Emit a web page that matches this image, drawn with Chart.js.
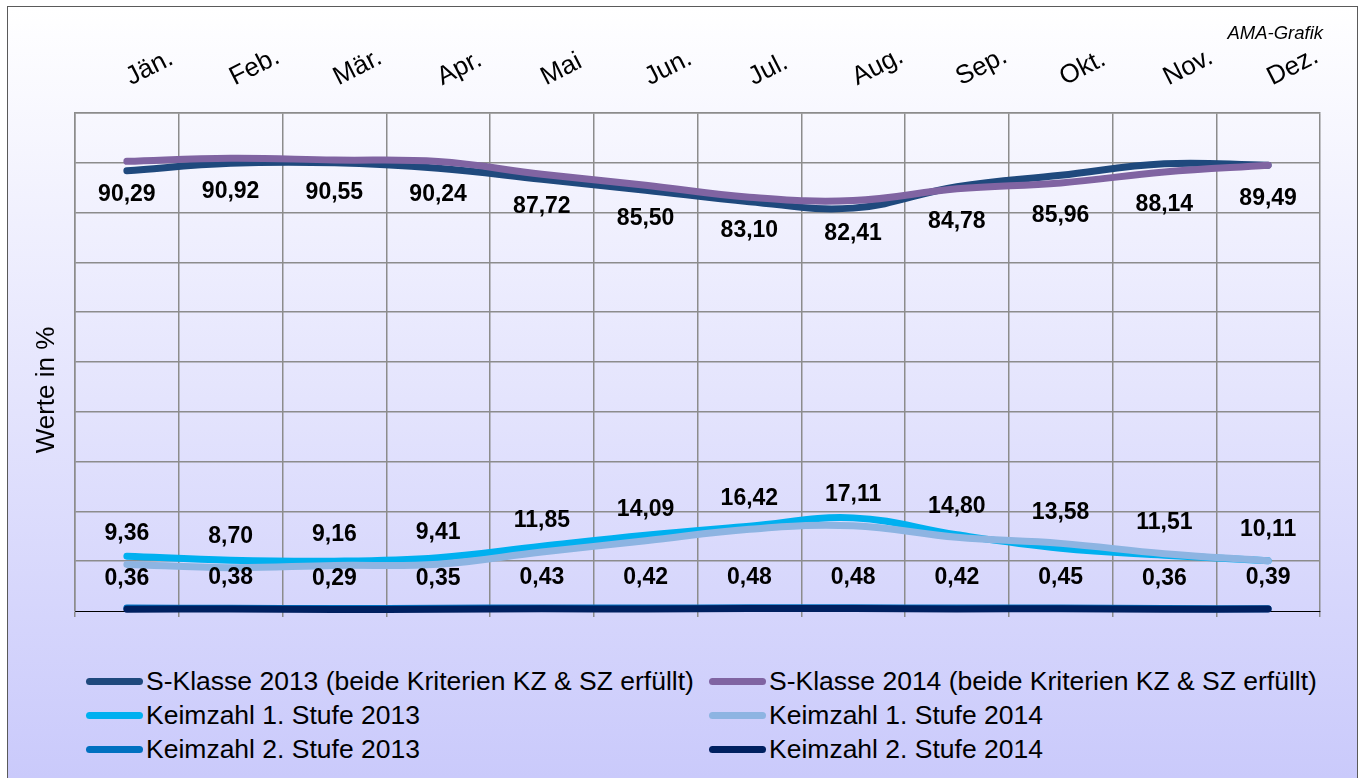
<!DOCTYPE html>
<html lang="de">
<head>
<meta charset="utf-8">
<title>S-Klasse und Keimzahl 2013 / 2014</title>
<script src="https://cdn.jsdelivr.net/npm/chart.js@4.4.1/dist/chart.umd.min.js"></script>
<style>
    html, body { margin: 0; padding: 0; background: #fff; width: 1362px; height: 778px; overflow: hidden; }
    #frame {
        position: absolute; left: 7px; top: 6px; width: 1351px; height: 800px;
        box-sizing: border-box; border: 1px solid #5a5a5a;
        background: linear-gradient(#ffffff, #c8c8fb);
        font-family: "Liberation Sans", Arial, sans-serif;
    }
    #chartBox { position: absolute; left: 0; top: 0; width: 1349px; height: 650px; }
    #ama { position: absolute; right: 34px; top: 17px; font-size: 18.5px; line-height: 1; font-style: italic; color: #000; }
    .legend-item { position: absolute; height: 34px; display: flex; align-items: center; white-space: nowrap; font-size: 26.5px; color: #000; }
    .legend-item .swatch { display: inline-block; width: 57px; height: 7px; border-radius: 4px; margin-right: 3px; }
</style>
</head>
<body>
<div id="frame">
    <div id="chartBox"><canvas id="chart"></canvas></div>
    <div id="ama">AMA-Grafik</div>
    <div id="legend"></div>
</div>
<script>
// Monate (Kategorien)
const monate = ['Jän.', 'Feb.', 'Mär.', 'Apr.', 'Mai', 'Jun.', 'Jul.', 'Aug.', 'Sep.', 'Okt.', 'Nov.', 'Dez.'];

// Werte in %
const sKlasse2013 = [88.4, 89.9, 90.0, 88.9, 86.7, 84.5, 82.2, 80.9, 85.2, 87.5, 89.8, 89.5];
const sKlasse2014 = [90.29, 90.92, 90.55, 90.24, 87.72, 85.50, 83.10, 82.41, 84.78, 85.96, 88.14, 89.49];
const keimzahl1Stufe2013 = [11.0, 10.2, 10.0, 10.7, 13.0, 15.2, 17.0, 18.7, 15.3, 12.6, 11.2, 10.1];
const keimzahl1Stufe2014 = [9.36, 8.70, 9.16, 9.41, 11.85, 14.09, 16.42, 17.11, 14.80, 13.58, 11.51, 10.11];
const keimzahl2Stufe2013 = [0.60, 0.55, 0.50, 0.55, 0.60, 0.60, 0.65, 0.65, 0.60, 0.60, 0.50, 0.45];
const keimzahl2Stufe2014 = [0.36, 0.38, 0.29, 0.35, 0.43, 0.42, 0.48, 0.48, 0.42, 0.45, 0.36, 0.39];

// y-Achse
const yMin = 0;
const yMax = 100;
const yStep = 10;

const FONT = '"Liberation Sans", Arial, sans-serif';
const GRID = '#8c8c8c';

// label: 'below' / 'above' -> Datenbeschriftung
function serie(name, data, color, order, label) {
    return {
        label: name,
        data: data,
        borderColor: color,
        backgroundColor: color,
        borderWidth: 7,
        borderCapStyle: 'round',
        borderJoinStyle: 'round',
        pointRadius: 0,
        pointHoverRadius: 0,
        tension: 0.4,
        fill: false,
        clip: false,
        order: order,
        dataLabel: label
    };
}

const datasets = [
    serie('S-Klasse 2013 (beide Kriterien KZ & SZ erfüllt)', sKlasse2013, '#1f497d', 1, null),
    serie('S-Klasse 2014 (beide Kriterien KZ & SZ erfüllt)', sKlasse2014, '#8064a2', 0, 'below'),
    serie('Keimzahl 1. Stufe 2013', keimzahl1Stufe2013, '#00b0f0', 1, null),
    serie('Keimzahl 1. Stufe 2014', keimzahl1Stufe2014, '#8db4e2', 0, 'above'),
    serie('Keimzahl 2. Stufe 2013', keimzahl2Stufe2013, '#0070c0', 1, null),
    serie('Keimzahl 2. Stufe 2014', keimzahl2Stufe2014, '#002060', 0, 'above')
];

// Datenbeschriftungen (0,00)
const wertePlugin = {
    id: 'werte',
    afterDatasetsDraw(chart) {
        const ctx = chart.ctx;
        ctx.save();
        ctx.font = 'bold 23px ' + FONT;
        ctx.fillStyle = '#000';
        ctx.textAlign = 'center';
        ctx.textBaseline = 'middle';
        chart.data.datasets.forEach((ds, i) => {
            if (!ds.dataLabel) return;
            const meta = chart.getDatasetMeta(i);
            const off = ds.dataLabel === 'below' ? 33 : -31;
            meta.data.forEach((pt, j) => {
                ctx.fillText(ds.data[j].toFixed(2).replace('.', ','), pt.x, pt.y + off);
            });
        });
        ctx.restore();
    }
};

// Achsentitel links
const achsenTitel = {
    id: 'achsenTitel',
    afterDraw(chart) {
        const a = chart.chartArea;
        const ctx = chart.ctx;
        ctx.save();
        ctx.translate(a.left - 28, (a.top + a.bottom) / 2 + 28);
        ctx.rotate(-Math.PI / 2);
        ctx.font = '26px ' + FONT;
        ctx.fillStyle = '#000';
        ctx.textAlign = 'center';
        ctx.textBaseline = 'middle';
        ctx.fillText('Werte in %', 0, 0);
        ctx.restore();
    }
};

const chart = new Chart(document.getElementById('chart'), {
    type: 'line',
    data: { labels: monate, datasets: datasets },
    options: {
        responsive: true,
        maintainAspectRatio: false,
        animation: false,
        events: [],
        layout: { padding: { left: 67, right: 37, top: 0, bottom: 38 } },
        plugins: {
            legend: { display: false },
            tooltip: { enabled: false },
            title: { display: false }
        },
        scales: {
            x: {
                position: 'top',
                offset: true,
                grid: { color: GRID, lineWidth: 1.5, drawTicks: false, offset: true },
                border: { display: true, color: GRID, width: 1.5 },
                ticks: {
                    color: '#000',
                    font: { family: FONT, size: 26 },
                    minRotation: 27,
                    maxRotation: 27,
                    autoSkip: false,
                    labelOffset: 15,
                    padding: 20
                },
                afterFit: s => { s.height = 106; }
            },
            xUnten: {
                position: 'bottom',
                offset: true,
                grid: { drawOnChartArea: false, drawTicks: true, tickLength: 6, color: GRID, lineWidth: 1.5, offset: true },
                border: { display: true, color: '#000', width: 1 },
                ticks: { display: false },
                afterFit: s => { s.height = 8; }
            },
            y: {
                min: yMin,
                max: yMax,
                ticks: { display: false, stepSize: yStep },
                grid: {
                    drawTicks: false,
                    lineWidth: 1.5,
                    color: c => c.tick && c.tick.value === yMin ? 'rgba(0,0,0,0)' : GRID
                },
                border: { display: true, color: GRID, width: 1.5 },
                afterFit: s => { s.width = 0; }
            }
        }
    },
    plugins: [wertePlugin, achsenTitel]
});

// Legende: zwei Spalten, drei Zeilen
function renderLegend() {
    const box = document.getElementById('legend');
    const spalten = [78, 701];
    const zeilen = [657, 691, 725];
    let html = '';
    chart.data.datasets.forEach((ds, i) => {
        const left = spalten[i % 2];
        const top = zeilen[Math.floor(i / 2)];
        html += `<div class="legend-item" style="left:${left}px;top:${top}px">
                    <span class="swatch" style="background:${ds.borderColor}"></span>${ds.label}
                 </div>`;
    });
    box.innerHTML = html;
}
renderLegend();
</script>
</body>
</html>
